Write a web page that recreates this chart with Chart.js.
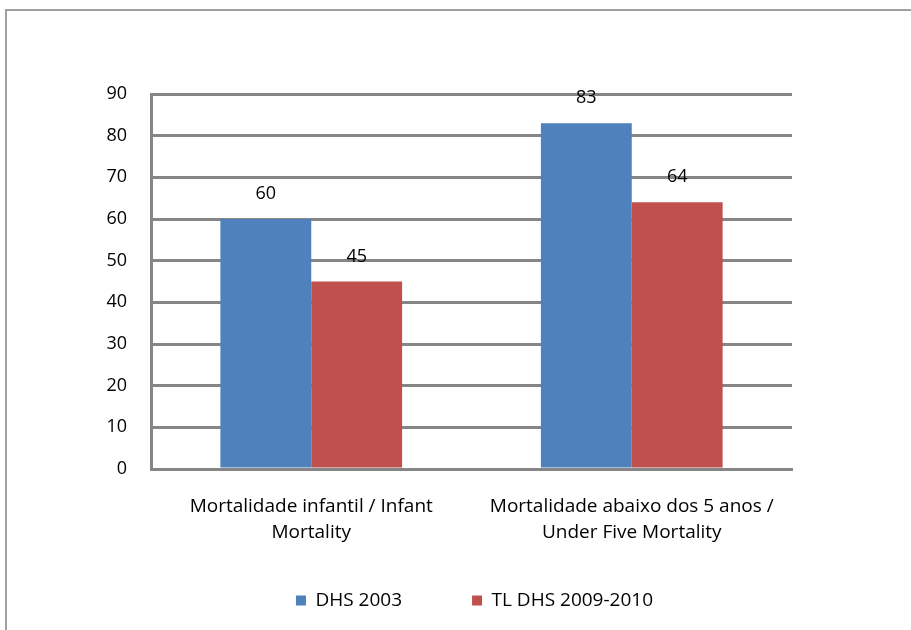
<!DOCTYPE html>
<html>
<head>
<meta charset="utf-8">
<script src="https://cdn.jsdelivr.net/npm/chart.js@4/dist/chart.umd.min.js"></script>
<style>
  html, body { margin: 0; padding: 0; background: #fff; }
  #wrap { position: relative; width: 911px; height: 630px; overflow: hidden; }
  #frame { position: absolute; left: 5px; top: 9px; width: 1000px; height: 1000px; border: 2px solid #a0a0a0; box-sizing: border-box; }
  #myChart { position: absolute; left: 0; top: 0; }
</style>
</head>
<body>
<div id="wrap">
  <div id="frame"></div>
  <canvas id="myChart" width="911" height="630"></canvas>
</div>
<script>
// categories (two-line labels like the original)
const categories = [
  ["Mortalidade infantil / Infant", "Mortality"],
  ["Mortalidade abaixo dos 5 anos /", "Under Five Mortality"],
];
const seriesNames = ["DHS 2003", "TL DHS 2009-2010"];
const dhs2003 = [60, 83];
const tlDhs2009 = [45, 64];
const yTicks = [0, 10, 20, 30, 40, 50, 60, 70, 80, 90];

const FONT = "'Open Sans'";
const FS = 18;

// value labels above the bars
const barLabels = {
  id: "barLabels",
  afterDatasetsDraw(chart) {
    const ctx = chart.ctx;
    ctx.save();
    ctx.font = FS + "px " + FONT;
    ctx.fillStyle = "#000";
    ctx.textAlign = "center";
    ctx.textBaseline = "middle";
    chart.data.datasets.forEach((ds, i) => {
      chart.getDatasetMeta(i).data.forEach((bar, j) => {
        ctx.fillText(ds.data[j], bar.x, bar.y - 25);
      });
    });
    ctx.restore();
  },
};

// move the legend row up so it sits where the original has it
const legendShift = {
  id: "legendShift",
  afterLayout(chart) {
    const lg = chart.legend;
    lg.top -= 28;
    lg.bottom -= 28;
    lg.left += 3;
    lg.right += 3;
  },
};

const ctx = document.getElementById("myChart").getContext("2d");
const myChart = new Chart(ctx, {
  type: "bar",
  data: {
    labels: categories,
    datasets: [
      {
        label: seriesNames[0],
        data: dhs2003,
        backgroundColor: "#4F81BD",
        borderWidth: 0,
      },
      {
        label: seriesNames[1],
        data: tlDhs2009,
        backgroundColor: "#C0504D",
        borderWidth: 0,
      },
    ],
  },
  plugins: [barLabels, legendShift],
  options: {
    responsive: false,
    animation: false,
    devicePixelRatio: 1,
    categoryPercentage: 0.567,
    barPercentage: 1,
    layout: {
      padding: { left: 91, right: 119, top: 94, bottom: -18 },
    },
    plugins: {
      tooltip: { enabled: false },
      legend: {
        position: "bottom",
        fullSize: false,
        labels: {
          boxWidth: 10,
          boxHeight: 10,
          padding: 70,
          color: "#000",
          font: { family: FONT, size: 19 },
        },
      },
    },
    scales: {
      x: {
        grid: { display: false, drawTicks: false },
        border: { display: true, color: "#868686", width: 3 },
        ticks: {
          color: "#000",
          padding: 25,
          maxRotation: 0,
          autoSkip: false,
          font: { family: FONT, size: 19, lineHeight: 1.37 },
        },
        afterFit: (s) => { s.height = 80; },
      },
      y: {
        min: 0,
        max: 90,
        afterBuildTicks: (s) => { s.ticks = yTicks.map((v) => ({ value: v })); },
        grid: { color: "#868686", lineWidth: 3, drawTicks: false },
        border: { display: true, color: "#868686", width: 3 },
        ticks: {
          color: "#000",
          padding: 24,
          font: { family: FONT, size: FS },
        },
        afterFit: (s) => { s.width = 60; },
      },
    },
  },
});
</script>
</body>
</html>
